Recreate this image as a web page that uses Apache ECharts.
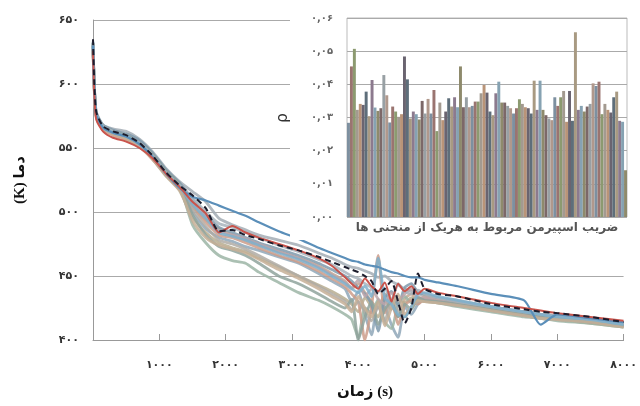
<!DOCTYPE html>
<html>
<head>
<meta charset="utf-8">
<script src="https://cdn.jsdelivr.net/npm/echarts@6/dist/echarts.min.js"></script>
<style>
  html, body { margin: 0; padding: 0; background: #fff; }
  #chart { width: 640px; height: 406px; }
</style>
</head>
<body>
<div id="chart"></div>
<script>
// time grid shared by every curve (s)
const times = [0, 20, 50, 150, 300, 500, 700, 900, 1100, 1300,
  1500, 1700, 1900, 2100, 2300, 2500, 2800, 3100, 3400, 3600,
  3800, 3900, 4000, 4100, 4200, 4300, 4400, 4500, 4600, 4700,
  4800, 4900, 5000, 5200, 5500, 6000, 6500, 6750, 7000, 7500, 8000];

// mean curve (dashed)
const meanTemp = [635, 600, 578, 567, 563, 560, 554, 544, 531, 521,
  513, 503, 485, 486, 482, 479, 474, 470, 465, 461,
  457, 455, 453, 450, 446, 436, 440, 446, 430, 413,
  425, 452, 440, 436, 434, 428, 424, 422, 421, 418, 414];

const redTemp = [626, 592, 572, 563, 558, 555, 550, 542, 530, 520,
  508, 499, 484, 489, 484, 480, 475, 470, 464, 458,
  449, 444, 440, 448, 442, 438, 445, 430, 444, 438,
  442, 436, 440, 437, 434, 429, 425, 423, 421, 418, 415];

const blueTemp = [630, 596, 576, 566, 562, 559, 553, 543, 530, 519,
  512, 509, 505, 501, 497, 492, 485, 479, 472, 468,
  464, 462, 461, 459, 458, 457, 455, 453, 452, 450,
  449, 449, 447, 445, 442, 436, 431, 412, 420, 417, 414];

// the grey bundle of individual runs
const g1 = [632, 598, 577, 568, 565, 563, 557, 547, 534, 524,
  516, 508, 495, 490, 486, 482, 478, 474, 468, 464,
  459, 457, 456, 454, 452, 449, 450, 446, 443, 440,
  438, 436, 435, 433, 431, 426, 422, 420, 419, 416, 412];
const g2 = [628, 595, 575, 566, 562, 559, 553, 542, 529, 519,
  505, 494, 487, 482, 478, 474, 469, 464, 458, 452,
  446, 440, 444, 437, 430, 425, 436, 428, 418, 432,
  436, 430, 434, 432, 429, 425, 421, 419, 418, 415, 411];
const g3 = [630, 597, 576, 567, 563, 560, 555, 545, 532, 522,
  500, 487, 480, 477, 473, 470, 465, 460, 452, 446,
  440, 430, 438, 420, 404, 430, 426, 412, 402, 426,
  420, 428, 432, 430, 428, 424, 420, 418, 417, 414, 411];
const g4 = [629, 596, 575, 565, 561, 557, 551, 541, 528, 517,
  496, 484, 476, 472, 469, 464, 457, 450, 443, 438,
  432, 428, 422, 433, 426, 418, 431, 424, 432, 429,
  433, 431, 430, 429, 427, 423, 419, 417, 416, 413, 410];
const g5 = [631, 598, 577, 567, 562, 558, 553, 544, 531, 521,
  490, 476, 466, 462, 460, 453, 445, 437, 431, 426,
  420, 416, 402, 425, 421, 432, 414, 409, 428, 434,
  429, 433, 431, 429, 426, 422, 418, 417, 415, 413, 410];
const g6 = [627, 594, 574, 564, 560, 556, 551, 541, 529, 518,
  504, 492, 482, 480, 476, 472, 466, 461, 454, 448,
  442, 436, 430, 400, 426, 466, 421, 432, 412, 427,
  431, 428, 432, 430, 428, 424, 420, 418, 417, 414, 411];
const g7 = [633, 599, 578, 568, 564, 561, 556, 546, 533, 523,
  510, 498, 488, 484, 480, 476, 471, 466, 460, 455,
  450, 446, 441, 436, 428, 407, 433, 438, 427, 441,
  444, 437, 436, 433, 430, 426, 422, 420, 419, 416, 413];
const g8 = [630, 597, 576, 566, 562, 558, 552, 543, 530, 520,
  502, 489, 478, 475, 471, 466, 458, 450, 442, 436,
  430, 424, 430, 422, 415, 426, 415, 430, 423, 418,
  425, 430, 431, 429, 427, 423, 419, 417, 416, 414, 411];
const g9 = [629, 596, 575, 566, 562, 559, 554, 544, 531, 520,
  507, 496, 485, 482, 479, 475, 469, 464, 457, 451,
  445, 441, 447, 434, 440, 432, 428, 437, 431, 436,
  440, 433, 433, 431, 428, 424, 420, 418, 417, 415, 412];
const g10 = [632, 598, 577, 567, 563, 560, 554, 545, 532, 522,
  498, 482, 473, 470, 466, 460, 450, 444, 436, 430,
  425, 432, 400, 418, 430, 412, 424, 430, 418, 428,
  424, 433, 431, 430, 428, 424, 420, 418, 417, 414, 411];
const g11 = [631, 597, 576, 567, 563, 559, 554, 544, 531, 521,
  511, 500, 491, 488, 484, 480, 474, 469, 463, 459,
  453, 450, 448, 444, 441, 438, 440, 431, 444, 438,
  436, 439, 436, 433, 430, 426, 422, 420, 419, 416, 413];
const g12 = [628, 595, 574, 565, 561, 557, 552, 542, 529, 519,
  493, 480, 474, 471, 468, 463, 455, 448, 440, 434,
  428, 422, 434, 425, 418, 430, 411, 425, 436, 420,
  426, 431, 430, 429, 427, 423, 419, 417, 416, 414, 410];
const g13 = [630, 597, 576, 566, 562, 559, 553, 543, 530, 520,
  506, 495, 484, 481, 478, 474, 468, 463, 456, 450,
  444, 440, 437, 442, 434, 464, 433, 428, 420, 418,
  426, 436, 437, 434, 431, 426, 422, 420, 418, 416, 412];
const bundle = [g1, g2, g3, g4, g5, g6, g7, g8, g9, g10, g11, g12, g13];
const bundleColors = ['#a3adb5', '#c6a890', '#8fa7b8', '#b7ad90', '#9cb5a6', '#cc9c8a',
  '#7f9aad', '#b0aba4', '#bba4aa', '#8fa39c', '#a8b4bd', '#c6af96', '#7fb0cc'];

// Spearman coefficient for each curve (inset)
const rho = [0.0284, 0.0454, 0.0507, 0.0323, 0.0341, 0.0338, 0.0378, 0.0304, 0.0413, 0.0330,
  0.0320, 0.0328, 0.0428, 0.0367, 0.0285, 0.0333, 0.0318, 0.0302, 0.0310, 0.0484,
  0.0415, 0.0297, 0.0318, 0.0310, 0.0294, 0.0350, 0.0312, 0.0356, 0.0312, 0.0383,
  0.0259, 0.0345, 0.0292, 0.0318, 0.0358, 0.0333, 0.0361, 0.0331, 0.0454, 0.0331,
  0.0361, 0.0331, 0.0335, 0.0348, 0.0348, 0.0373, 0.0398, 0.0375, 0.0318, 0.0307,
  0.0373, 0.0408, 0.0345, 0.0345, 0.0335, 0.0328, 0.0312, 0.0328, 0.0355, 0.0341,
  0.0331, 0.0328, 0.0312, 0.0411, 0.0323, 0.0411, 0.0323, 0.0307, 0.0297, 0.0292,
  0.0361, 0.0335, 0.0361, 0.0380, 0.0287, 0.0380, 0.0290, 0.0557, 0.0323, 0.0335,
  0.0318, 0.0333, 0.0341, 0.0403, 0.0395, 0.0408, 0.0310, 0.0341, 0.0323, 0.0315,
  0.0361, 0.0378, 0.0290, 0.0287, 0.0141];
const barColors = ['#7d90a0', '#9a7470', '#8c9a70', '#a39a90', '#b99478', '#6a6470',
  '#5e6e7a', '#a89a82', '#8c7a8e', '#86a2b2', '#8e8a6c', '#7c6868', '#98a0a4', '#b0988c'];

const faDigits = ['۰', '۱', '۲', '۳', '۴', '۵', '۶', '۷', '۸', '۹'];
const toFa = s => String(s).replace(/[0-9]/g, d => faDigits[+d]);

const chart = echarts.init(document.getElementById('chart'));

const lineSeries = bundle.map((vals, k) => ({
  type: 'line',
  xAxisIndex: 0, yAxisIndex: 0,
  showSymbol: false,
  smooth: 0.2,
  z: 2,
  silent: true,
  data: times.map((t, i) => [t, vals[i]]),
  lineStyle: { width: 2.8, color: bundleColors[k], opacity: 0.85 }
}));

lineSeries.push({
  type: 'line', xAxisIndex: 0, yAxisIndex: 0, showSymbol: false, smooth: 0.2, z: 2,
  data: times.map((t, i) => [t, blueTemp[i]]),
  lineStyle: { width: 2.2, color: '#5b8fb9' }
});
lineSeries.push({
  type: 'line', xAxisIndex: 0, yAxisIndex: 0, showSymbol: false, smooth: 0.2, z: 2,
  data: times.map((t, i) => [t, redTemp[i]]),
  lineStyle: { width: 2, color: '#c9544c' }
});
lineSeries.push({
  type: 'line', xAxisIndex: 0, yAxisIndex: 0, showSymbol: false, smooth: 0.2, z: 2,
  data: times.map((t, i) => [t, meanTemp[i]]),
  lineStyle: { width: 2, color: '#1c1c2c', type: [6, 4] }
});

const option = {
  animation: false,
  grid: [
    { left: 93, right: 15, top: 20, bottom: 66 },
    { left: 347, right: 13, top: 18, bottom: 189, show: true, borderColor: '#bbb', borderWidth: 1, z: 4 }
  ],
  xAxis: [
    {
      type: 'value', gridIndex: 0, min: 0, max: 8000, interval: 1000,
      axisLine: { lineStyle: { color: '#999' } },
      axisTick: { show: true, inside: true, length: 6, lineStyle: { color: '#999' } },
      splitLine: { show: false },
      axisLabel: {
        margin: 20, color: '#333', fontWeight: 'bold', fontSize: 11,
        fontFamily: 'DejaVu Sans',
        formatter: v => v === 0 ? '' : toFa(v)
      }
    },
    {
      type: 'category', gridIndex: 1, data: rho.map((r, i) => i + 1),
      axisLine: { show: false }, axisTick: { show: false }, axisLabel: { show: false }, z: 5
    }
  ],
  yAxis: [
    {
      type: 'value', gridIndex: 0, min: 400, max: 650, interval: 50,
      axisLine: { show: true, lineStyle: { color: '#999' } },
      axisTick: { show: false },
      splitLine: { lineStyle: { color: '#aaa' } },
      axisLabel: {
        margin: 14, color: '#333', fontWeight: 'bold', fontSize: 11,
        fontFamily: 'DejaVu Sans', formatter: v => toFa(v)
      }
    },
    {
      type: 'value', gridIndex: 1, min: 0, max: 0.06, interval: 0.01, z: 5,
      axisLine: { show: false }, axisTick: { show: false },
      splitLine: { lineStyle: { color: '#aaa' } },
      axisLabel: {
        margin: 14, color: '#666', fontWeight: 'bold', fontSize: 10,
        fontFamily: 'DejaVu Sans', formatter: v => toFa(v.toFixed(2).replace('.', ','))
      }
    }
  ],
  graphic: [
    { type: 'rect', z: 3, shape: { x: 290, y: 0, width: 350, height: 240 }, style: { fill: '#fff' } },
    {
      type: 'text', z: 6, x: 283, y: 118, rotation: Math.PI / 2,
      style: { text: 'ρ', font: '15px "DejaVu Sans"', fill: '#333', align: 'center', verticalAlign: 'middle' }
    },
    {
      type: 'text', z: 6, x: 487, y: 228,
      style: {
        text: 'ضریب اسپیرمن مربوط به هریک از منحنی ها', font: 'bold 12px "DejaVu Sans"',
        fill: '#555', align: 'center', verticalAlign: 'middle'
      }
    },
    {
      type: 'text', z: 6, x: 365, y: 392,
      style: {
        text: 'زمان (s)', font: 'bold 15px "Liberation Serif", "DejaVu Sans"',
        fill: '#111', align: 'center', verticalAlign: 'middle'
      }
    },
    {
      type: 'text', z: 6, x: 20, y: 180, rotation: Math.PI / 2,
      style: {
        text: '(K) دما', font: 'bold 15px "Liberation Serif", "DejaVu Sans"',
        fill: '#111', align: 'center', verticalAlign: 'middle'
      }
    }
  ],
  series: lineSeries.concat([{
    type: 'bar', xAxisIndex: 1, yAxisIndex: 1, z: 6,
    barCategoryGap: '0%',
    data: rho,
    itemStyle: { color: p => barColors[p.dataIndex % barColors.length] }
  }])
};

chart.setOption(option);
</script>
</body>
</html>
